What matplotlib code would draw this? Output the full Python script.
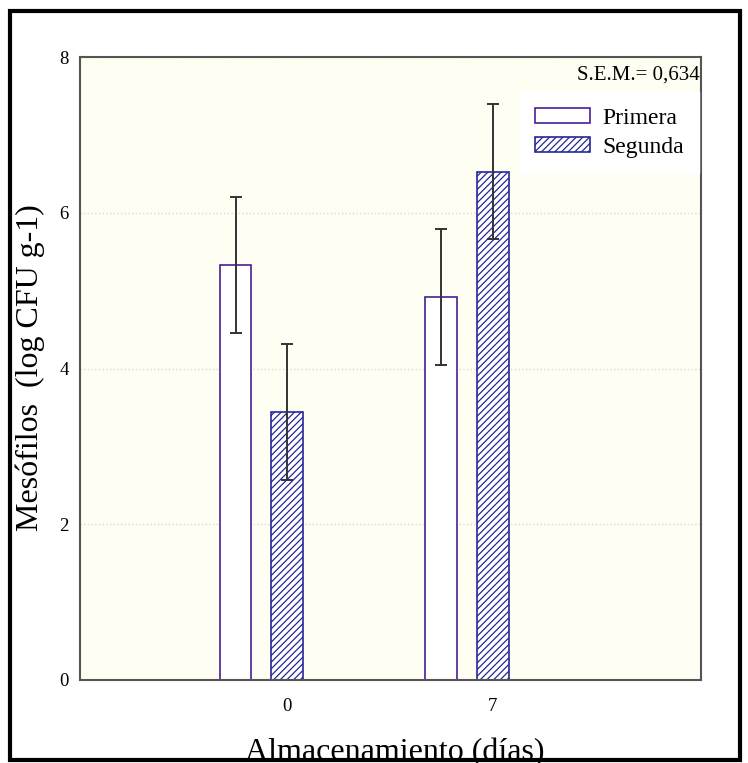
import numpy as np
import matplotlib.pyplot as plt
from matplotlib.patches import Rectangle

plt.rcParams['font.family'] = ['Liberation Serif', 'DejaVu Serif']
plt.rcParams['hatch.linewidth'] = 0.9

# data
dias = ['0', '7']
primera = [5.33, 4.92]
segunda = [3.44, 6.53]
err_primera = [0.87, 0.87]
err_segunda = [0.87, 0.87]

fig = plt.figure(figsize=(7.48, 7.63), dpi=100)
ax = fig.add_axes([0.107, 0.109, 0.830, 0.816])
ax.set_facecolor('#fefef2')

x = np.arange(len(dias))
w = 0.155
err_kw = dict(ecolor='#333333', elinewidth=1.4, capthick=1.4)

ax.bar(x - 0.25, primera, w, color='white', edgecolor='#4b1c9a', linewidth=1.2,
       yerr=err_primera, capsize=4.3, error_kw=err_kw, label='Primera', zorder=2)
ax.bar(x, segunda, w, color='white', edgecolor='#26269a', hatch='/////', linewidth=1.2,
       yerr=err_segunda, capsize=4.3, error_kw=err_kw, label='Segunda', zorder=2)

ax.set_xlim(-1.005, 2.01)
ax.set_ylim(0, 8)
ax.set_xticks(x)
ax.set_xticklabels(dias)
ax.set_yticks([0, 2, 4, 6, 8])
ax.tick_params(length=0, labelsize=13.5, pad=8)
ax.tick_params(axis='x', pad=13)
ax.grid(axis='y', color='#d8d8d8', linestyle=':', linewidth=1.0, zorder=0)
ax.set_axisbelow(True)
for s in ax.spines.values():
    s.set_color('#555555')
    s.set_linewidth(1.5)

# axis titles placed in figure coordinates, as in the reference
fig.text(30 / 748, 1 - 368 / 763, 'Mesófilos  (log CFU g-1)', rotation=90,
         ha='center', va='center', fontsize=23)
fig.text(395 / 748, 2.5 / 763, 'Almacenamiento (días)', ha='center', va='baseline',
         fontsize=23)

ax.text(0.998, 0.971, 'S.E.M.= 0,634', transform=ax.transAxes, ha='right', va='center',
        fontsize=15)
leg = ax.legend(loc='upper right', bbox_to_anchor=(0.997, 0.9438), borderaxespad=0,
                fontsize=17, frameon=True, fancybox=False, edgecolor='white',
                framealpha=1, handlelength=2.33, handleheight=0.6, handletextpad=0.5,
                borderpad=0.65, labelspacing=0.36)

# outer frame around the whole figure
fig.add_artist(Rectangle((0.014, 0.004), 0.975, 0.982, transform=fig.transFigure,
                         fill=False, edgecolor='black', linewidth=3, zorder=10))

fig.savefig('out.png', dpi=100)
